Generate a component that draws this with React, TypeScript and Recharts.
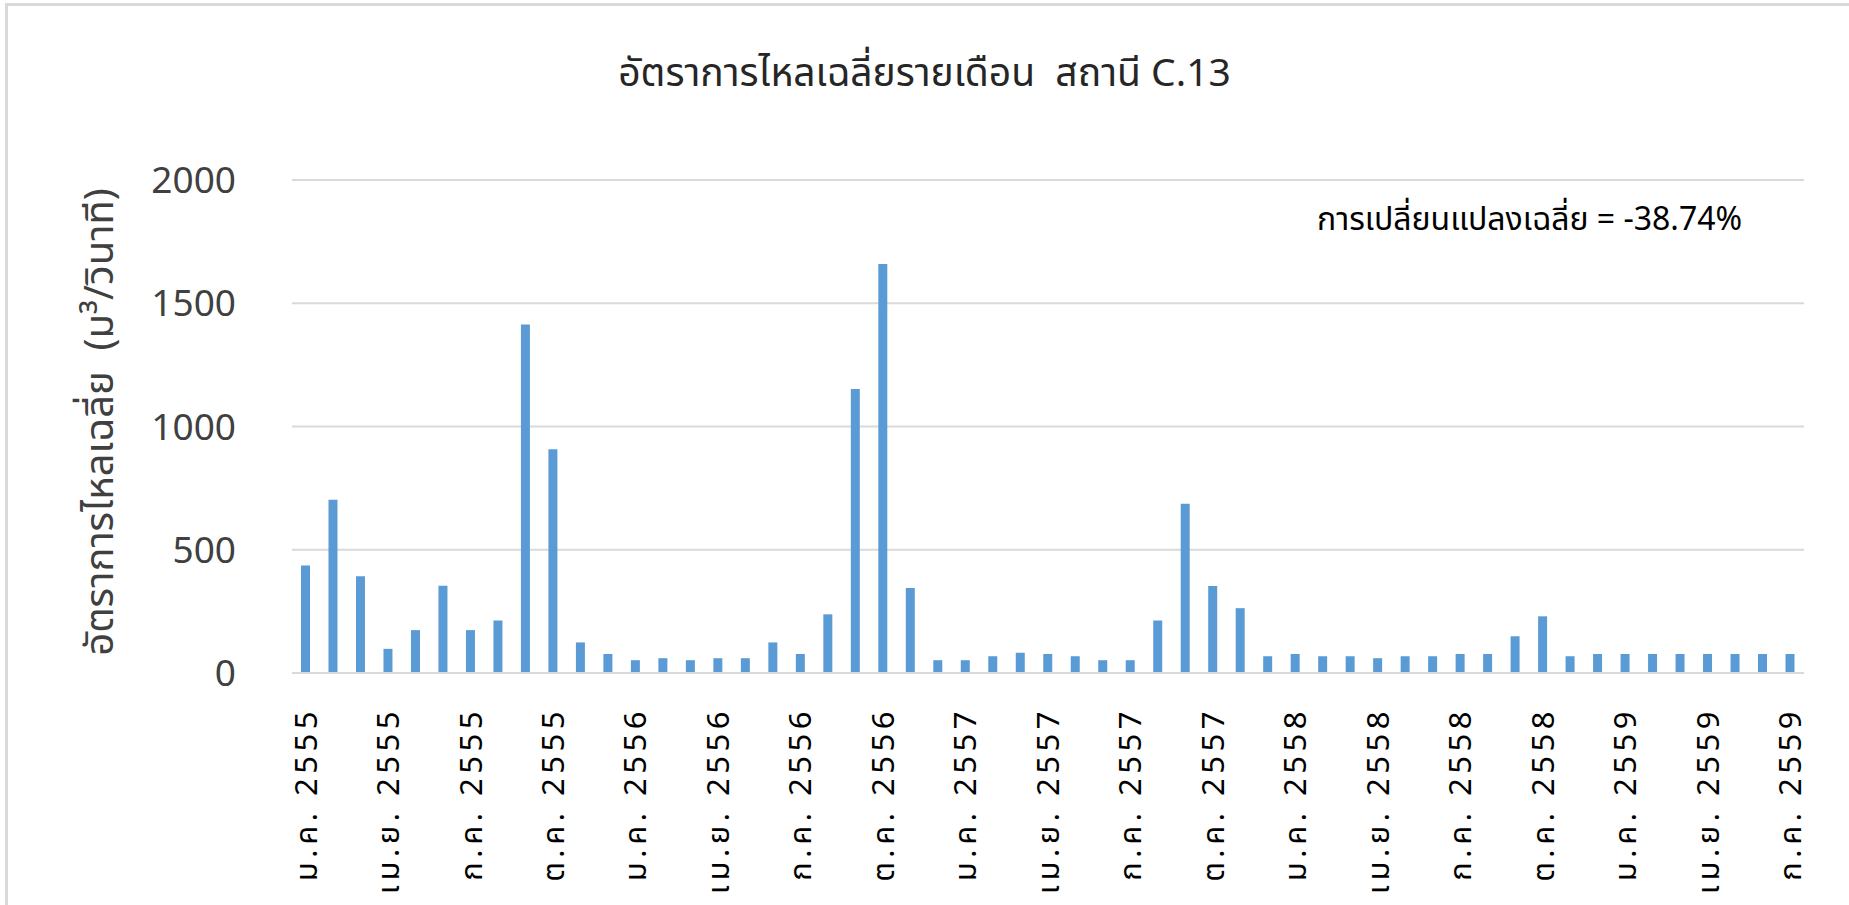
import { BarChart, Bar, XAxis, YAxis, CartesianGrid } from "recharts";

const MONTHS = ["ม.ค.", "ก.พ.", "มี.ค.", "เม.ย.", "พ.ค.", "มิ.ย.", "ก.ค.", "ส.ค.", "ก.ย.", "ต.ค.", "พ.ย.", "ธ.ค."];
const YEARS = [2555, 2556, 2557, 2558, 2559];
const LAST_YEAR_MONTHS = 7; // data stops at ก.ค. 2559

// monthly mean flow (m3/s)
const FLOW = [
  436, 703, 393, 98, 174, 354, 174, 213, 1414, 908, 124, 77,
  52, 60, 52, 60, 60, 124, 77, 238, 1152, 1659, 345, 52,
  52, 68, 82, 77, 68, 52, 52, 213, 687, 353, 263, 68,
  77, 68, 68, 60, 68, 68, 77, 77, 149, 230, 68, 77,
  77, 77, 77, 77, 77, 77, 77,
];

const Y_TICKS = [0, 500, 1000, 1500, 2000];

const TITLE = "อัตราการไหลเฉลี่ยรายเดือน  สถานี C.13";
const NOTE = "การเปลี่ยนแปลงเฉลี่ย = -38.74%";
const Y_LABEL = "อัตราการไหลเฉลี่ย  (ม³/วินาที)";

const categories: string[] = [];
YEARS.forEach((yr, i) => {
  const n = i === YEARS.length - 1 ? LAST_YEAR_MONTHS : 12;
  for (let m = 0; m < n; m++) categories.push(`${MONTHS[m]} ${yr}`);
});

const data = categories.map((month, i) => ({ month, flow: FLOW[i] }));

const FONT = "'Noto Sans', 'Noto Sans Thai', sans-serif";

function MonthTick(props: any) {
  const { x, y, payload } = props;
  const ty = y + 34;
  return (
    <text
      x={x}
      y={ty}
      dy="0.35em"
      transform={`rotate(-90, ${x}, ${ty})`}
      textAnchor="end"
      fill="#000"
      fontSize={31}
      fontFamily={FONT}
      letterSpacing={4.5}
    >
      {payload.value}
    </text>
  );
}

export default function App() {
  return (
    <div style={{ position: "absolute", left: 0, top: 0, width: 1849, height: 905, background: "#fff" }}>
      <div
        style={{
          position: "absolute",
          left: 5,
          top: 3,
          width: 1860,
          height: 920,
          borderLeft: "3px solid #d9d9d9",
          borderTop: "3px solid #d9d9d9",
        }}
      />
      <div
        style={{
          position: "absolute",
          left: 0,
          width: 1849,
          top: 44,
          textAlign: "center",
          fontFamily: FONT,
          fontSize: 39,
          color: "#262626",
          whiteSpace: "pre",
        }}
      >
        {TITLE}
      </div>
      <div
        style={{
          position: "absolute",
          left: 1317,
          top: 196,
          fontFamily: FONT,
          fontSize: 32,
          color: "#000",
          whiteSpace: "pre",
        }}
      >
        {NOTE}
      </div>
      <div
        style={{
          position: "absolute",
          left: 100,
          top: 422,
          transform: "translate(-50%, -50%) rotate(-90deg)",
          fontFamily: FONT,
          fontSize: 40,
          color: "#404040",
          whiteSpace: "pre",
        }}
      >
        {Y_LABEL}
      </div>
      <BarChart
        width={1849}
        height={905}
        data={data}
        margin={{ top: 180, right: 45, left: 0, bottom: 10 }}
        style={{ position: "absolute", left: 0, top: 0 }}
      >
        <CartesianGrid vertical={false} stroke="#d9d9d9" strokeWidth={2} />
        <XAxis
          dataKey="month"
          interval={2}
          height={222}
          tickLine={false}
          tickSize={0}
          tickMargin={0}
          axisLine={{ stroke: "#d9d9d9", strokeWidth: 2 }}
          tick={<MonthTick />}
        />
        <YAxis
          width={292}
          domain={[0, 2000]}
          ticks={Y_TICKS}
          axisLine={false}
          tickLine={false}
          tickSize={0}
          tickMargin={56}
          tick={{ fontSize: 37, fill: "#404040", fontFamily: FONT }}
        />
        <Bar dataKey="flow" fill="#5b9bd5" barSize={9} isAnimationActive={false} />
      </BarChart>
    </div>
  );
}
